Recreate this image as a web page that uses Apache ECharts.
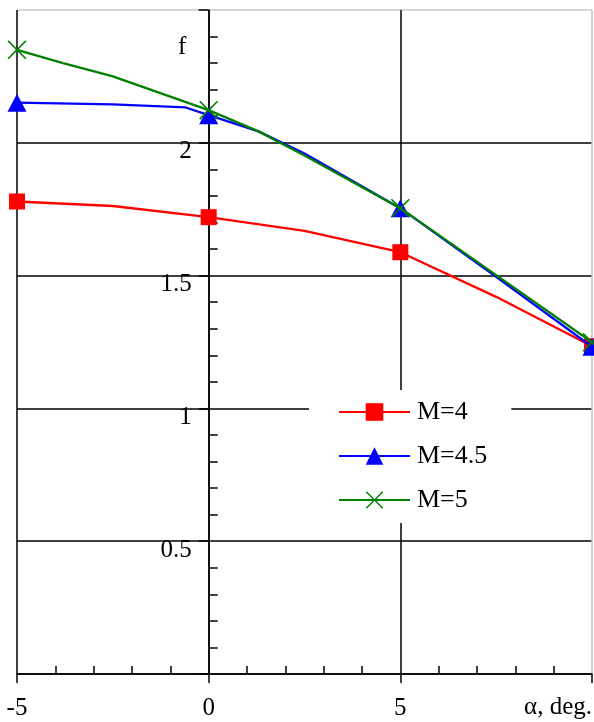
<!DOCTYPE html>
<html>
<head>
<meta charset="utf-8">
<script src="https://cdn.jsdelivr.net/npm/echarts@6/dist/echarts.min.js"></script>
<style>
  html, body { margin: 0; padding: 0; background: #fff; }
  #chart { width: 594px; height: 722px; }
</style>
</head>
<body>
<div id="chart"></div>
<script>
// Angle of attack (deg) and f for three Mach numbers
const alphaM4   = [-5, -2.5, 0, 2.5, 5, 7.5, 10];
const fM4       = [1.779, 1.762, 1.720, 1.668, 1.588, 1.420, 1.234];

const alphaM45  = [-5, -2.5, -0.6, 0, 1.3, 2.5, 5, 7.5, 10];
const fM45      = [2.151, 2.145, 2.133, 2.104, 2.043, 1.960, 1.754, 1.495, 1.232];

const alphaM5   = [-5, -3.8, -2.5, 0, 1.3, 2.5, 5, 7.5, 10];
const fM5       = [2.350, 2.300, 2.250, 2.123, 2.043, 1.952, 1.754, 1.502, 1.249];

// Angles at which the computed points are marked
const markedAlpha = [-5, 0, 5, 10];

const seriesNames = ['M=4', 'M=4.5', 'M=5'];
const xTickLabels = ['-5', '0', '5'];
const yTickLabels = ['0.5', '1', '1.5', '2'];

const FONT = 'Liberation Serif';
const crossPath = 'path://M1.2,0L10,8.8L18.8,0L20,1.2L11.2,10L20,18.8L18.8,20L10,11.2L1.2,20L0,18.8L8.8,10L0,1.2Z';

const X_MIN = -5, X_MAX = 10;
const GRID = { left: 17, right: 2, top: 10, bottom: 48 };
const CHART_W = 594;

function toData(xs, ys) {
  return xs.map((x, i) => {
    const item = { value: [x, ys[i]] };
    if (markedAlpha.indexOf(x) < 0) item.symbol = 'none';
    return item;
  });
}

// The f axis stands at alpha = 0: shift it right from the grid's left edge
const plotW = CHART_W - GRID.left - GRID.right;
const yAxisShift = plotW * (0 - X_MIN) / (X_MAX - X_MIN);

const chart = echarts.init(document.getElementById('chart'), null, { renderer: 'canvas' });

const axisTextStyle = { fontFamily: FONT, fontSize: 25, color: '#000' };

chart.setOption({
  animation: false,
  backgroundColor: '#fff',
  grid: { ...GRID, containLabel: false, outerBoundsMode: 'none' },
  xAxis: {
    type: 'value',
    min: X_MIN, max: X_MAX, interval: 5,
    axisLine: { show: true, onZero: true, lineStyle: { color: '#000', width: 1.5 } },
    axisTick: { show: true, inside: false, length: 9, lineStyle: { color: '#000', width: 1.5 } },
    minorTick: { show: true, splitNumber: 5, length: -8, lineStyle: { color: '#000', width: 1.5 } },
    splitLine: { show: true, lineStyle: { color: ['#000', '#000', '#000', '#c0c0c0'], width: 1.5 } },
    axisLabel: {
      ...axisTextStyle,
      margin: 22,
      formatter: v => (xTickLabels.indexOf(String(v)) >= 0 ? String(v) : '')
    }
  },
  yAxis: {
    type: 'value',
    min: 0, max: 2.5, interval: 0.5,
    offset: -yAxisShift,
    axisLine: { show: true, onZero: false, lineStyle: { color: '#000', width: 1.5 } },
    axisTick: { show: true, inside: false, length: 10, lineStyle: { color: '#000', width: 1.5 } },
    minorTick: { show: true, splitNumber: 5, length: -9, lineStyle: { color: '#000', width: 1.5 } },
    splitLine: { show: true, lineStyle: { color: ['#000', '#000', '#000', '#000', '#000', '#c8c8c8'], width: 1.5 } },
    axisLabel: {
      ...axisTextStyle,
      margin: 17,
      verticalAlign: 'top',
      lineHeight: 18,
      formatter: v => (yTickLabels.indexOf(String(v)) >= 0 ? String(v) : '')
    }
  },
  legend: {
    orient: 'vertical',
    left: 309, top: 390,
    padding: [8, 24, 9, 29],
    backgroundColor: '#fff',
    itemWidth: 71, itemHeight: 22, itemGap: 16,
    textStyle: { fontFamily: FONT, fontSize: 26, color: '#000', lineHeight: 28, padding: [0, 0, 0, 2] },
    data: seriesNames
  },
  graphic: [
    { type: 'text', left: 178, top: 35, style: { text: 'f', font: '25px "' + FONT + '"', fill: '#000' } },
    { type: 'text', right: 2, top: 695, style: { text: 'α, deg.', font: '25px "' + FONT + '"', fill: '#000' } }
  ],
  series: [
    {
      name: seriesNames[0], type: 'line',
      data: toData(alphaM4, fM4),
      symbol: 'rect', symbolSize: 16,
      lineStyle: { color: '#ff0000', width: 2.3 },
      itemStyle: { color: '#ff0000' },
      z: 3
    },
    {
      name: seriesNames[1], type: 'line',
      data: toData(alphaM45, fM45),
      symbol: 'triangle', symbolSize: [19, 18],
      lineStyle: { color: '#0000ff', width: 2.3 },
      itemStyle: { color: '#0000ff' },
      z: 4
    },
    {
      name: seriesNames[2], type: 'line',
      data: toData(alphaM5, fM5),
      symbol: crossPath, symbolSize: 19,
      lineStyle: { color: '#008000', width: 2.3 },
      itemStyle: { color: '#008000' },
      z: 5
    }
  ]
});
</script>
</body>
</html>
